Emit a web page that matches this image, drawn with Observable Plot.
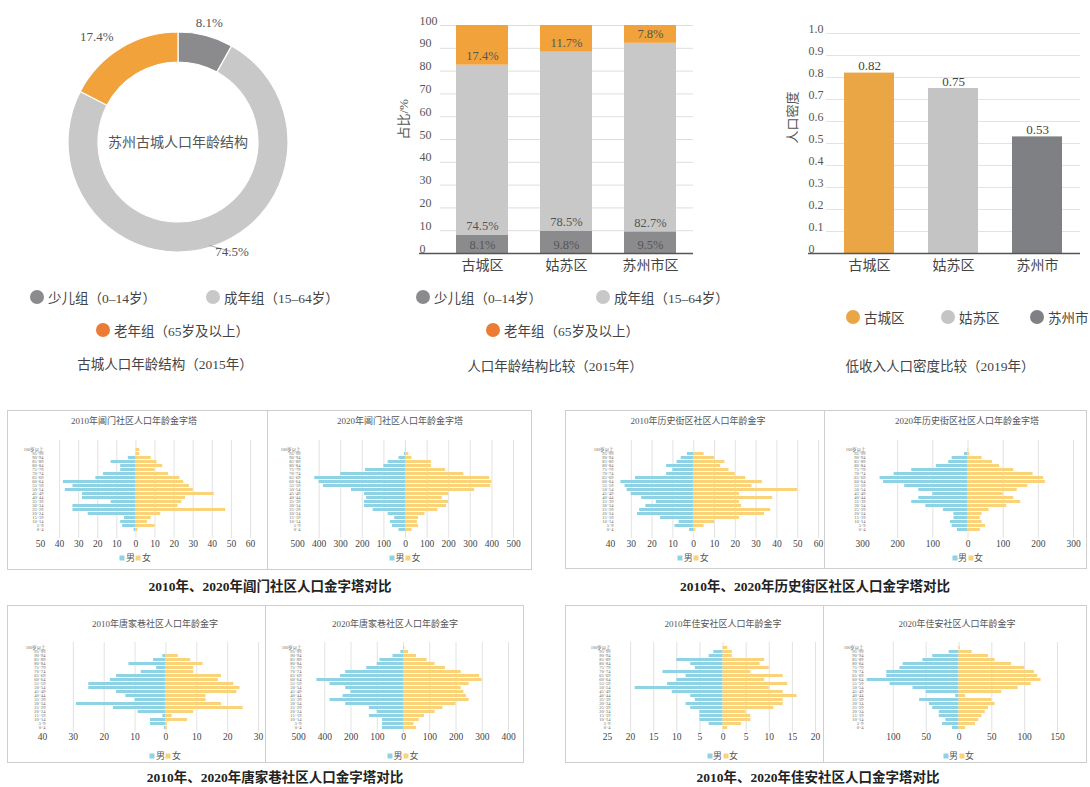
<!DOCTYPE html>
<html><head><meta charset="utf-8">
<script src="https://cdn.jsdelivr.net/npm/d3@7"></script>
<script src="https://cdn.jsdelivr.net/npm/@observablehq/plot@0.6"></script>
<style>
body{margin:0;background:#fff;}
#root{position:relative;width:1090px;height:787px;overflow:hidden;background:#fff;font-family:"Liberation Serif","Noto Sans CJK SC",serif;color:#444;}
.ctr{position:absolute;transform:translate(-50%,-50%);white-space:nowrap;}
.lg{position:absolute;transform:translateY(-50%);white-space:nowrap;display:flex;align-items:center;font-size:13.5px;color:#444;}
.dot{display:inline-block;width:14px;height:14px;border-radius:50%;margin-right:4px;}
.box{position:absolute;border:1px solid #cfcfcf;box-sizing:border-box;}
.sq{display:inline-block;width:5px;height:5px;margin-right:1px;}
</style></head>
<body><div id="root"></div>
<script>
const FONT = '"Liberation Serif","Noto Sans CJK SC",serif';

// ---------- data: top charts ----------
const ageGroupNames = ["少儿组（0–14岁）", "成年组（15–64岁）", "老年组（65岁及以上）"];
const ageColors = ["#8b8b8d", "#c8c8c8", "#f2a23a"];
const donutShares = [8.1, 74.5, 17.4];
const donutCenterTitle = "苏州古城人口年龄结构";

const districts2015 = ["古城区", "姑苏区", "苏州市区"];
const shareChild = [8.1, 9.8, 9.5];
const shareAdult = [74.5, 78.5, 82.7];
const shareElderly = [17.4, 11.7, 7.8];
const ticks2015 = [0, 10, 20, 30, 40, 50, 60, 70, 80, 90, 100];

const districts2019 = ["古城区", "姑苏区", "苏州市"];
const density2019 = [0.82, 0.75, 0.53];
const districtColors = ["#eaa545", "#c4c4c4", "#7e8083"];
const ticks2019 = [0, 0.1, 0.2, 0.3, 0.4, 0.5, 0.6, 0.7, 0.8, 0.9, 1.0];

// ---------- data: pyramids (top row = oldest) ----------
const ageGroups = ["100岁以上","95~99","90~94","85~89","80~84","75~79","70~74","65~69","60~64","55~59","50~54","45~49","40~44","35~39","30~34","25~29","20~24","15~19","10~14","5~9","0~4"];
const sexes = ["男", "女"];
const sexColors = ["#8ed2e6", "#fad27a"];

const changmen2010Male   = [0,0,4,13,8,8,17,21,38,33,37,28,28,13,33,33,25,6,8,7,1];
const changmen2010Female = [2,2,8,11,14,10,17,23,25,28,30,41,26,24,22,47,13,8,6,10,1];
const changmen2020Male   = [0,5,30,80,100,185,300,420,400,380,250,190,180,190,190,150,80,50,70,60,30];
const changmen2020Female = [3,15,30,120,120,185,270,390,400,395,320,200,170,200,190,150,90,60,55,60,30];
const lishi2010Male   = [0,3,6,8,13,10,13,28,35,33,32,30,25,18,23,26,27,16,7,9,2];
const lishi2010Female = [0,5,10,15,13,17,20,25,33,28,50,22,38,22,23,37,34,22,10,5,1];
const lishi2020Male   = [0,10,45,55,90,160,210,250,240,180,140,100,140,160,120,70,40,40,50,45,30];
const lishi2020Female = [2,5,40,70,90,130,185,215,220,170,140,100,130,150,110,60,40,35,40,50,35];
const tangjia2010Male   = [0,0,1,4,12,3,8,16,18,25,25,16,13,10,29,17,9,1,5,5,0.5];
const tangjia2010Female = [0,0,4,8,12,9,9,18,17,22,24,23,13,13,18,25,9,2,7,0.5,0.5];
const tangjia2020Male   = [0,10,40,90,100,140,220,240,330,280,220,200,230,280,220,130,100,130,80,80,80];
const tangjia2020Female = [5,20,50,90,120,160,220,290,300,250,220,230,240,250,200,150,120,80,60,40,50];
const jiaan2010Male   = [0,2,3,10,7,6,13,8,10,12,19,11,7,6,8,7,5,5,5,3,0];
const jiaan2010Female = [1,2,2,9,8,10,6,13,9,14,10,13,16,13,13,11,5,6,6,4,1];
const jiaan2020Male   = [0,15,40,55,85,90,110,110,140,105,70,50,5,60,45,40,30,30,20,25,10];
const jiaan2020Female = [2,20,45,55,80,100,115,120,125,110,90,65,10,50,55,45,40,35,30,25,10];

const ticksChangmen2010 = [-50,-40,-30,-20,-10,0,10,20,30,40,50,60];
const ticksChangmen2020 = [-500,-400,-300,-200,-100,0,100,200,300,400,500];
const ticksLishi2010 = [-40,-30,-20,-10,0,10,20,30,40,50,60];
const ticksLishi2020 = [-300,-200,-100,0,100,200,300];
const ticksTangjia2010 = [-40,-30,-20,-10,0,10,20,30];
const ticksTangjia2020 = [-400,-300,-200,-100,0,100,200,300,400];
const tickLabelsTangjia2020 = ["500","400","200","100","0","100","200","300","400"];
const ticksJiaan2010 = [-25,-20,-15,-10,-5,0,5,10,15,20];
const ticksJiaan2020 = [-100,-50,0,50,100,150];

// ---------- helpers ----------
const root = document.getElementById("root");
function put(node, left, top) {
  node.style.position = "absolute"; node.style.left = left + "px"; node.style.top = top + "px";
  root.appendChild(node); return node;
}
function ctext(txt, cx, cy, css) {
  const d = document.createElement("div"); d.className = "ctr"; d.textContent = txt;
  d.style.left = cx + "px"; d.style.top = cy + "px"; Object.assign(d.style, css || {});
  root.appendChild(d); return d;
}
function legendItem(txt, color, cx, cy) {
  const d = document.createElement("div"); d.className = "lg";
  d.innerHTML = `<span class="dot" style="background:${color}"></span>${txt}`;
  d.style.left = (cx - 7) + "px"; d.style.top = cy + "px"; root.appendChild(d);
}
function box(l, t, w, h) {
  const d = document.createElement("div"); d.className = "box";
  Object.assign(d.style, {left: l + "px", top: t + "px", width: w + "px", height: h + "px"});
  root.appendChild(d);
}
const baseStyle = {fontFamily: FONT, background: "transparent", overflow: "visible"};

// ---------- donut ----------
const donutColor = Plot.scale({color: {type: "ordinal", domain: ageGroupNames, range: ageColors}});
const donutMark = (index, scales, values, dims) => {
  const cx = dims.width / 2, cy = dims.height / 2;
  const arcs = d3.pie().sort(null).startAngle(0).endAngle(2 * Math.PI)(donutShares);
  const g = d3.create("svg:g").attr("transform", `translate(${cx},${cy})`);
  const arc = d3.arc().innerRadius(80).outerRadius(110);
  g.selectAll("path").data(arcs).join("path")
    .attr("d", arc).attr("fill", (d, i) => donutColor.apply(ageGroupNames[i]))
    .attr("stroke", "#fff").attr("stroke-width", 1.2);
  arcs.forEach((a, i) => {
    const mid = (a.startAngle + a.endAngle) / 2;
    const s = Math.sin(mid), c = -Math.cos(mid);
    const txt = donutShares[i].toFixed(1) + "%";
    if (donutShares[i] > 50) {
      const px = 108 * s, py = 108 * c;
      g.append("line").attr("x1", px).attr("y1", py).attr("x2", px + 22).attr("y2", py + 6)
        .attr("stroke", "#999").attr("stroke-width", 0.8);
      g.append("text").attr("x", px + 23).attr("y", py + 6).attr("dy", "0.35em")
        .attr("font-size", 13).attr("fill", "#555").text(txt);
    } else {
      const r = 124;
      g.append("text").attr("x", r * s).attr("y", r * c).attr("dy", "0.35em")
        .attr("text-anchor", Math.abs(s) < 0.3 ? "middle" : (s < 0 ? "end" : "start"))
        .attr("font-size", 13).attr("fill", "#555").text(txt);
    }
  });
  g.append("text").attr("text-anchor", "middle").attr("dy", "0.35em")
    .attr("font-size", 14).attr("fill", "#555").text(donutCenterTitle);
  return g.node();
};
const donut = Plot.plot({width: 356, height: 284, margin: 0, style: baseStyle, marks: [donutMark]});
put(donut, 0, 0);
legendItem(ageGroupNames[0], ageColors[0], 37, 297);
legendItem(ageGroupNames[1], ageColors[1], 213, 297);
legendItem(ageGroupNames[2], "#ec7c35", 103, 330);
ctext("古城人口年龄结构（2015年）", 165, 363, {fontSize: "13.5px", color: "#444"});

// ---------- stacked bars 2015 ----------
const shareSeries = [shareChild, shareAdult, shareElderly];
const ageRows = districts2015.flatMap((d, i) => ageGroupNames.map((g, j) => ({district: d, group: g, value: shareSeries[j][i]})));
const bar2 = Plot.plot({
  width: 320, height: 290, marginLeft: 60, marginRight: 7, marginTop: 25, marginBottom: 37,
  style: baseStyle,
  x: {domain: districts2015, axis: null, paddingInner: 0.38, paddingOuter: 0.19},
  y: {domain: [0, 100], axis: null},
  color: {domain: ageGroupNames, range: ageColors},
  marks: [
    Plot.ruleY(ticks2015.filter(t => t > 0), {stroke: "#dedede"}),
    Plot.barY(ageRows, {x: "district", y: "value", fill: "group"}),
    Plot.ruleY([0], {stroke: "#555", strokeWidth: 1.6, insetLeft: -21}),
    Plot.text(ageRows, Plot.stackY1({x: "district", y: "value", z: "group",
      text: d => d.value.toFixed(1) + "%", dy: -9, fontSize: 12.5, fill: "#555"})),
    Plot.text(ticks2015, {y: d => d, text: d => String(d), frameAnchor: "left", textAnchor: "start",
      dx: -21, lineAnchor: "bottom", dy: -1, fontSize: 12, fill: "#555"}),
    Plot.text(districts2015, {x: d => d, text: d => d, frameAnchor: "bottom", dy: 16, fontSize: 14, fill: "#444"}),
    Plot.text(["占比/%"], {frameAnchor: "left", rotate: -90, dx: -37, fontSize: 13, fill: "#555"})
  ]
});
put(bar2, 380, 0);
legendItem(ageGroupNames[0], ageColors[0], 423, 297);
legendItem(ageGroupNames[1], ageColors[1], 603, 297);
legendItem(ageGroupNames[2], "#ec7c35", 493, 330);
ctext("人口年龄结构比较（2015年）", 555, 365, {fontSize: "13.5px", color: "#444"});

// ---------- density bars 2019 ----------
const densityRows = districts2019.map((d, i) => ({district: d, value: density2019[i]}));
const bar3 = Plot.plot({
  width: 325, height: 290, marginLeft: 66, marginRight: 5, marginTop: 33, marginBottom: 37,
  style: baseStyle,
  x: {domain: districts2019, axis: null, paddingInner: 0.4, paddingOuter: 0.2},
  y: {domain: [0, 1], axis: null},
  color: {domain: districts2019, range: districtColors},
  marks: [
    Plot.ruleY(ticks2019.filter(t => t > 0), {stroke: "#e2e2e2"}),
    Plot.barY(densityRows, {x: "district", y: "value", fill: "district"}),
    Plot.ruleY([0], {stroke: "#555", strokeWidth: 1.6, insetLeft: -18}),
    Plot.text(densityRows, {x: "district", y: "value", text: d => d.value.toFixed(2), lineAnchor: "bottom", dy: -3, fontSize: 13, fill: "#444"}),
    Plot.text(ticks2019, {y: d => d, text: d => d === 0 ? "0" : d.toFixed(1), frameAnchor: "left", textAnchor: "start",
      dx: -18, lineAnchor: "bottom", dy: -1, fontSize: 12, fill: "#555"}),
    Plot.text(districts2019, {x: d => d, text: d => d, frameAnchor: "bottom", dy: 16, fontSize: 14, fill: "#444"}),
    Plot.text(["人口密度"], {frameAnchor: "left", rotate: -90, dx: -34, fontSize: 13, fill: "#555"})
  ]
});
put(bar3, 760, 0);
legendItem(districts2019[0], districtColors[0], 853, 317);
legendItem(districts2019[1], districtColors[1], 948, 317);
legendItem(districts2019[2], districtColors[2], 1037, 317);
ctext("低收入人口密度比较（2019年）", 940, 365, {fontSize: "13.5px", color: "#444"});

// ---------- pyramids ----------
function pyramid(cfg) {
  const rows = ageGroups.flatMap((a, i) => [
    {age: a, sex: sexes[0], v: -cfg.male[i]},
    {age: a, sex: sexes[1], v: cfg.female[i]}
  ]);
  const ml = 30, mr = 10, mt = 4;
  const W = cfg.x1 - cfg.x0 + ml + mr;
  const H = mt + cfg.ph + cfg.mb;
  const p = Plot.plot({
    width: W, height: H, marginLeft: ml, marginRight: mr, marginTop: mt, marginBottom: cfg.mb,
    style: baseStyle,
    x: {domain: cfg.domain, axis: null},
    y: {domain: ageGroups, axis: null, padding: 0.32},
    color: {domain: sexes, range: sexColors},
    marks: [
      Plot.ruleX(cfg.ticks.filter(t => t !== cfg.domain[0]), {stroke: "#dadada", strokeWidth: 0.8}),
      Plot.barX(rows, {x: "v", y: "age", fill: "sex"}),
      Plot.text(cfg.ticks, {x: d => d, text: (d, i) => cfg.labels ? cfg.labels[i] : String(Math.abs(d)),
        frameAnchor: "bottom", dy: cfg.tdy, fontSize: 9.5, fill: "#444"}),
      Plot.text(ageGroups, {y: d => d, text: d => d, frameAnchor: "left", textAnchor: "end", dx: 3, fontSize: 4.4, fill: "#666"})
    ]
  });
  put(p, cfg.x0 - ml, cfg.top - mt);
  const zero = cfg.x0 + (0 - cfg.domain[0]) / (cfg.domain[1] - cfg.domain[0]) * (cfg.x1 - cfg.x0);
  ctext(cfg.title, cfg.tcx, cfg.ty, {fontSize: "9px", color: "#555"});
  const lg = document.createElement("div"); lg.className = "ctr";
  lg.style.left = zero + "px"; lg.style.top = cfg.ly + "px"; lg.style.fontSize = "9px"; lg.style.color = "#555";
  lg.innerHTML = `<span class="sq" style="background:${sexColors[0]}"></span>${sexes[0]}<span class="sq" style="background:${sexColors[1]};margin-left:1px"></span>${sexes[1]}`;
  root.appendChild(lg);
}

box(7, 410, 261, 160); box(267, 410, 265, 160);
box(565, 410, 260, 159); box(824, 410, 263, 159);
box(7, 605, 259, 158); box(265, 605, 259, 158);
box(565, 605, 259, 158); box(823, 605, 264, 158);

const row1 = {top: 440, ph: 98, mb: 18, tdy: 8, ty: 420, ly: 557};
const row2 = {top: 642, ph: 90, mb: 16, tdy: 7, ty: 623, ly: 755};

pyramid({...row1, x0: 40, x1: 250, domain: [-50, 60], ticks: ticksChangmen2010, male: changmen2010Male, female: changmen2010Female, title: "2010年阊门社区人口年龄金字塔", tcx: 134});
pyramid({...row1, x0: 297, x1: 513, domain: [-500, 500], ticks: ticksChangmen2020, male: changmen2020Male, female: changmen2020Female, title: "2020年阊门社区人口年龄金字塔", tcx: 400});
pyramid({...row1, x0: 610, x1: 818, domain: [-40, 60], ticks: ticksLishi2010, male: lishi2010Male, female: lishi2010Female, title: "2010年历史街区社区人口年龄金字", tcx: 698});
pyramid({...row1, x0: 862, x1: 1073, domain: [-300, 300], ticks: ticksLishi2020, male: lishi2020Male, female: lishi2020Female, title: "2020年历史街区社区人口年龄金字塔", tcx: 967});
pyramid({...row2, x0: 42, x1: 258, domain: [-40, 30], ticks: ticksTangjia2010, male: tangjia2010Male, female: tangjia2010Female, title: "2010年唐家巷社区人口年龄金字", tcx: 155});
pyramid({...row2, x0: 298, x1: 508, domain: [-400, 400], ticks: ticksTangjia2020, labels: tickLabelsTangjia2020, male: tangjia2020Male, female: tangjia2020Female, title: "2020年唐家巷社区人口年龄金字", tcx: 395});
pyramid({...row2, x0: 607, x1: 815, domain: [-25, 20], ticks: ticksJiaan2010, male: jiaan2010Male, female: jiaan2010Female, title: "2010年佳安社区人口年龄金字", tcx: 723});
pyramid({...row2, x0: 860, x1: 1057, domain: [-150, 150], ticks: ticksJiaan2020, male: jiaan2020Male, female: jiaan2020Female, title: "2020年佳安社区人口年龄金字", tcx: 957});

const capCss = {fontSize: "13.5px", color: "#222", fontWeight: "bold"};
ctext("2010年、2020年阊门社区人口金字塔对比", 270, 585, capCss);
ctext("2010年、2020年历史街区社区人口金字塔对比", 815, 585, capCss);
ctext("2010年、2020年唐家巷社区人口金字塔对比", 275, 776, capCss);
ctext("2010年、2020年佳安社区人口金字塔对比", 818, 776, capCss);
</script>
</body></html>
